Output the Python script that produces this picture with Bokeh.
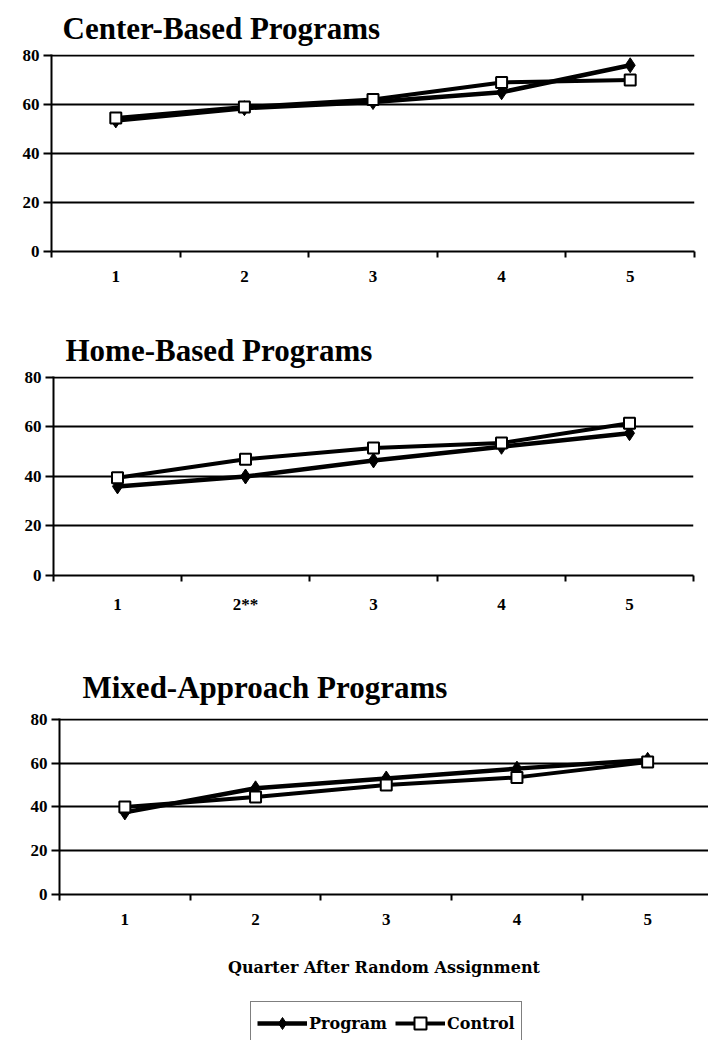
from bokeh.plotting import figure
from bokeh.layouts import column
from bokeh.models import Range1d, FixedTicker, Legend, LegendItem
from bokeh.embed import file_html
from bokeh.resources import INLINE

# ---------------- data ----------------
quarters = [1, 2, 3, 4, 5]
center_labels = ["1", "2", "3", "4", "5"]
home_labels = ["1", "2**", "3", "4", "5"]
mixed_labels = ["1", "2", "3", "4", "5"]
y_ticks = [0, 20, 40, 60, 80]

center_program = [53.5, 58.5, 61, 65, 76]
center_control = [54.5, 59, 62, 69, 70]
home_program = [36, 40, 46.5, 52, 57.5]
home_control = [39.5, 47, 51.5, 53.5, 61.5]
mixed_program = [37.5, 48.5, 53, 57.5, 61.5]
mixed_control = [40, 44.5, 50, 53.5, 60.5]

panel_titles = ["Center-Based Programs", "Home-Based Programs", "Mixed-Approach Programs"]
x_axis_title = "Quarter After Random Assignment"
series_names = ["Program", "Control"]

SERIF = "Liberation Serif"
W = 708


def no_align(p):
    try:
        p.frame_align = False
    except Exception:
        pass


def add_series(p, program, control):
    pl = p.line(quarters, program, line_width=4.5, line_color="black")
    pm = p.scatter(quarters, program, marker="diamond", size=15,
                   fill_color="black", line_color="black")
    cl = p.line(quarters, control, line_width=4, line_color="black")
    cm = p.scatter(quarters, control, marker="square", size=11,
                   fill_color="white", line_color="black", line_width=2)
    return pl, pm, cl, cm


def make_panel(title, program, control, labels, height, b_top, b_bottom, b_left, b_right,
               x_end, title_offset, title_standoff):
    p = figure(width=W, height=height, x_range=Range1d(0.5, x_end), y_range=Range1d(0, 80.4),
               output_backend="svg", toolbar_location=None,
               min_border_top=b_top, min_border_bottom=b_bottom,
               min_border_left=b_left, min_border_right=b_right)
    no_align(p)
    p.outline_line_color = None
    p.background_fill_color = "white"
    p.border_fill_color = "white"

    p.title.text = title
    p.title.text_font = SERIF
    p.title.text_font_style = "bold"
    p.title.text_font_size = "31px"
    p.title.text_color = "black"
    p.title.align = "left"
    p.title.offset = title_offset
    p.title.standoff = title_standoff

    # x axis: labels at category centres, ticks at category boundaries
    bounds = [q - 0.5 for q in quarters] + [quarters[-1] + 0.5]
    p.xaxis.ticker = FixedTicker(ticks=quarters, minor_ticks=bounds)
    p.xaxis.major_label_overrides = {q: lab for q, lab in zip(quarters, labels)}
    p.xaxis.major_tick_out = 0
    p.xaxis.major_tick_in = 0
    p.xaxis.minor_tick_out = 6
    p.xaxis.minor_tick_in = 0
    p.xaxis.minor_tick_line_width = 2
    p.xaxis.minor_tick_line_color = "black"
    p.xaxis.axis_line_width = 2
    p.xaxis.axis_line_color = "black"
    p.xaxis.major_label_text_font = SERIF
    p.xaxis.major_label_text_font_style = "bold"
    p.xaxis.major_label_text_font_size = "17px"
    p.xaxis.major_label_text_color = "black"
    p.xaxis.major_label_standoff = 13
    p.xgrid.visible = False

    # y axis
    p.yaxis.ticker = FixedTicker(ticks=y_ticks)
    p.yaxis.major_tick_out = 8
    p.yaxis.major_tick_in = 0
    p.yaxis.major_tick_line_width = 2
    p.yaxis.major_tick_line_color = "black"
    p.yaxis.minor_tick_line_color = None
    p.yaxis.axis_line_width = 2
    p.yaxis.axis_line_color = "black"
    p.yaxis.major_label_text_font = SERIF
    p.yaxis.major_label_text_font_style = "bold"
    p.yaxis.major_label_text_font_size = "17px"
    p.yaxis.major_label_text_color = "black"
    p.yaxis.major_label_standoff = 4
    p.ygrid.grid_line_color = "black"
    p.ygrid.grid_line_width = 2
    p.ygrid.grid_line_alpha = 1.0

    r = add_series(p, program, control)
    return p, r


p1, _ = make_panel(panel_titles[0], center_program, center_control, center_labels,
                   310, 53, 59, 51, 14, 5.5, 11, 17)
p2, _ = make_panel(panel_titles[1], home_program, home_control, home_labels,
                   340, 66, 75, 53, 15, 5.5, 12, 18)
p3, _ = make_panel(panel_titles[2], mixed_program, mixed_control, mixed_labels,
                   350, 68, 106, 59, 0, 0.5 + 649 / 130.7, 23, 27)

p3.xaxis.axis_label = x_axis_title
p3.xaxis.axis_label_text_font = "DejaVu Serif"
p3.xaxis.axis_label_text_font_style = "bold"
p3.xaxis.axis_label_text_font_size = "16px"
p3.xaxis.axis_label_text_color = "black"
p3.xaxis.axis_label_standoff = 30

# legend strip (its glyphs lie outside its own visible range; only the legend shows)
pleg = figure(width=W, height=40, x_range=Range1d(-20, -19), y_range=Range1d(-20, -19),
              output_backend="svg", toolbar_location=None,
              x_axis_location=None, y_axis_location=None,
              min_border_top=0, min_border_bottom=0, min_border_left=0, min_border_right=0)
no_align(pleg)
pleg.outline_line_color = None
pleg.xgrid.visible = False
pleg.ygrid.visible = False
rl = add_series(pleg, mixed_program, mixed_control)

legend = Legend(items=[LegendItem(label=series_names[0], renderers=[rl[0], rl[1]]),
                       LegendItem(label=series_names[1], renderers=[rl[2], rl[3]])],
                orientation="horizontal", location=(250, -5))
legend.label_text_font = "DejaVu Serif"
legend.label_text_font_style = "bold"
legend.label_text_font_size = "16px"
legend.label_text_color = "black"
legend.border_line_color = "black"
legend.border_line_width = 1.5
legend.background_fill_color = "white"
legend.background_fill_alpha = 1.0
legend.glyph_width = 50
legend.glyph_height = 30
legend.label_standoff = 2
legend.spacing = 8
legend.padding = 6
legend.margin = 0
pleg.add_layout(legend, "center")

layout = column(p1, p2, p3, pleg, spacing=0)

with open("out.html", "w") as f:
    f.write(file_html(layout, INLINE))
